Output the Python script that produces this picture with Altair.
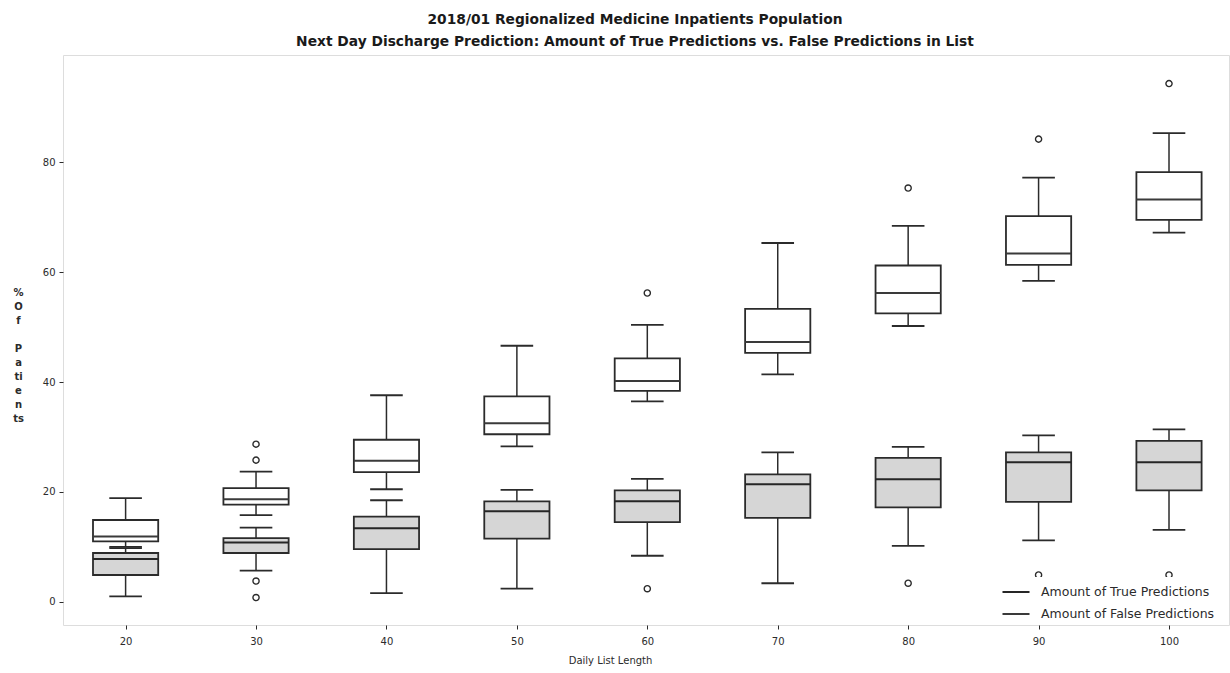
import altair as alt
import pandas as pd

lengths = [20, 30, 40, 50, 60, 70, 80, 90, 100]
series_names = ["Amount of True Predictions", "Amount of False Predictions"]

# lower (grey) boxes
true_whislo = [1.0, 5.7, 1.6, 2.4, 8.4, 3.4, 10.2, 11.2, 13.1]
true_q1 = [4.9, 8.9, 9.6, 11.5, 14.5, 15.3, 17.2, 18.2, 20.3]
true_med = [7.8, 10.8, 13.4, 16.5, 18.3, 21.4, 22.3, 25.4, 25.4]
true_q3 = [8.9, 11.6, 15.5, 18.3, 20.3, 23.2, 26.2, 27.2, 29.3]
true_whishi = [9.8, 13.5, 18.5, 20.4, 22.4, 27.2, 28.2, 30.3, 31.4]
true_out_x = [30, 30, 60, 80, 90, 100]
true_out_y = [3.8, 0.8, 2.4, 3.4, 4.9, 4.9]

# upper (white) boxes
false_whislo = [10.0, 15.8, 20.5, 28.3, 36.5, 41.4, 50.2, 58.4, 67.2]
false_q1 = [11.0, 17.7, 23.6, 30.5, 38.4, 45.3, 52.5, 61.3, 69.5]
false_med = [11.9, 18.7, 25.7, 32.5, 40.2, 47.3, 56.2, 63.4, 73.2]
false_q3 = [14.9, 20.7, 29.5, 37.4, 44.3, 53.3, 61.2, 70.2, 78.2]
false_whishi = [18.9, 23.7, 37.6, 46.6, 50.4, 65.3, 68.4, 77.2, 85.3]
false_out_x = [30, 30, 60, 80, 90, 100]
false_out_y = [28.7, 25.8, 56.2, 75.3, 84.2, 94.3]

stats = pd.concat([
    pd.DataFrame({"len": lengths, "series": series_names[0], "lo": true_whislo,
                  "q1": true_q1, "med": true_med, "q3": true_q3, "hi": true_whishi}),
    pd.DataFrame({"len": lengths, "series": series_names[1], "lo": false_whislo,
                  "q1": false_q1, "med": false_med, "q3": false_q3, "hi": false_whishi}),
], ignore_index=True)

outliers = pd.concat([
    pd.DataFrame({"len": true_out_x, "val": true_out_y, "series": series_names[0]}),
    pd.DataFrame({"len": false_out_x, "val": false_out_y, "series": series_names[1]}),
], ignore_index=True)

DARK = "#2b2b2b"
FONT = "DejaVu Sans"

xscale = alt.Scale(domain=[15.2, 104.6], nice=False, zero=False)
yscale = alt.Scale(domain=[-4.2, 99.5], nice=False, zero=False)

xaxis = alt.Axis(values=lengths, title="Daily List Length", grid=False, domain=False,
                 tickColor=DARK, tickSize=4, labelPadding=7, labelFontSize=10,
                 labelColor=DARK, labelFont=FONT, titleFont=FONT, titleFontSize=10,
                 titleFontWeight="normal", titleColor=DARK,
                 titleX=547, titleY=35, titleBaseline="middle", titleAlign="center")
yaxis = alt.Axis(values=[0, 20, 40, 60, 80], grid=False, domain=False,
                 tickColor=DARK, tickSize=4, labelPadding=4, labelFontSize=10,
                 labelColor=DARK, labelFont=FONT,
                 title=["%", "O", "f", "\u2800", "P", "a", "ti", "e", "n", "ts"],
                 titleAngle=0, titleFont=FONT, titleFontSize=10, titleFontWeight="bold",
                 titleColor=DARK, titleLineHeight=14.1, titleX=-45, titleY=232,
                 titleBaseline="top", titleAlign="center")

base = alt.Chart(stats).transform_calculate(
    xl="datum.len - 2.5", xr="datum.len + 2.5",
    cl="datum.len - 1.25", cr="datum.len + 1.25")

whiskers = base.mark_rule(color=DARK, strokeWidth=1.5).encode(
    x=alt.X("len:Q", scale=xscale, axis=xaxis),
    y=alt.Y("lo:Q", scale=yscale, axis=yaxis),
    y2="hi:Q")

cap_lo = base.mark_rule(color=DARK, strokeWidth=1.8).encode(
    x="cl:Q", x2="cr:Q", y="lo:Q")
cap_hi = base.mark_rule(color=DARK, strokeWidth=1.8).encode(
    x="cl:Q", x2="cr:Q", y="hi:Q")

boxes = base.mark_bar(stroke=DARK, strokeWidth=1.8, opacity=1).encode(
    x="xl:Q", x2="xr:Q", y="q1:Q", y2="q3:Q",
    fill=alt.condition(alt.datum.series == series_names[0],
                       alt.value("#d6d6d6"), alt.value("#ffffff")))

medians = base.mark_rule(strokeWidth=2).encode(
    x="xl:Q", x2="xr:Q", y="med:Q",
    color=alt.Color("series:N",
                    scale=alt.Scale(domain=series_names, range=["#262626", "#3a3a3a"]),
                    legend=alt.Legend(title=None, orient="none", legendX=938, legendY=522,
                                      symbolType="stroke", symbolStrokeWidth=2,
                                      symbolSize=730, labelFont=FONT, labelFontSize=12.5,
                                      labelLimit=400,
                                      labelColor=DARK, fillColor="white", padding=0,
                                      rowPadding=-9, labelOffset=10)))

points = alt.Chart(outliers).mark_point(shape="circle", filled=False, size=38,
                                         color=DARK, strokeWidth=1.4, opacity=1).encode(
    x="len:Q", y="val:Q")

chart = alt.layer(whiskers, cap_lo, cap_hi, boxes, medians, points).properties(
    width=1166, height=570,
    padding={"left": 63, "top": 55, "right": 1, "bottom": 48},
    autosize=alt.AutoSizeParams(type="none"),
    title=alt.TitleParams(
        ["2018/01 Regionalized Medicine Inpatients Population",
         "Next Day Discharge Prediction: Amount of True Predictions vs. False Predictions in List"],
        font="DejaVu Sans", fontSize=13.8, fontWeight="bold", color="#1a1a1a",
        lineHeight=22, offset=6, anchor="middle", dx=-11),
).configure_view(stroke=DARK, strokeWidth=1.3).configure(background="white")

chart.save("out.html", embed_options={"renderer": "svg", "actions": False})
